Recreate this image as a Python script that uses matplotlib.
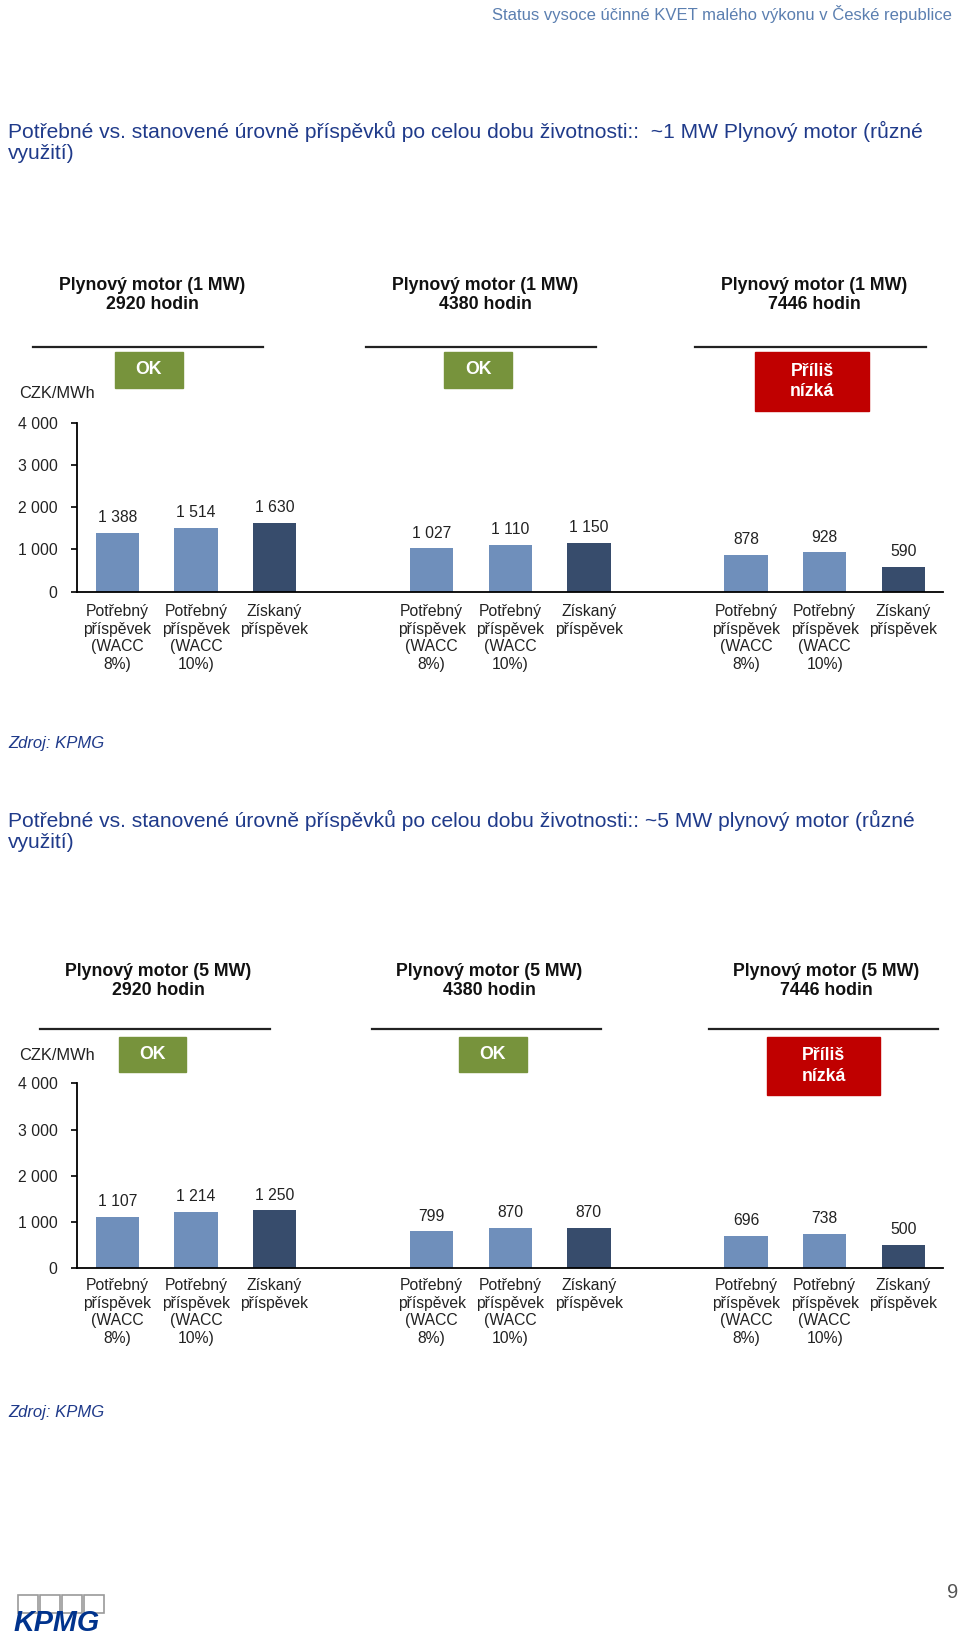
import matplotlib
matplotlib.use("Agg")
import matplotlib.pyplot as plt
from matplotlib.patches import Rectangle
from matplotlib.lines import Line2D

W, H = 960, 1637

# data
categories = ["Potřebný\npříspěvek\n(WACC\n8%)", "Potřebný\npříspěvek\n(WACC\n10%)", "Získaný\npříspěvek"]
hours = [2920, 4380, 7446]
status = ["OK", "OK", "Příliš\nnízká"]
values_1mw = [1388, 1514, 1630, 1027, 1110, 1150, 878, 928, 590]
values_5mw = [1107, 1214, 1250, 799, 870, 870, 696, 738, 500]
y_ticks = [0, 1000, 2000, 3000, 4000]

LIGHT = "#6f8fbb"
DARK = "#374c6c"
GREEN = "#77933c"
RED = "#c00000"
NAVY = "#1f3a8a"
STEEL = "#5b7fb0"

plt.rcParams['font.family'] = ['Liberation Sans', 'DejaVu Sans']

fig = plt.figure(figsize=(W / 100, H / 100), dpi=100)


def fx(x):
    return x / W


def fy(y):
    return 1 - y / H


def fmt(v):
    return f"{v:,}".replace(",", " ")


def draw_panel(y_top, y_zero, values, mw, head_x, head_y, lines, boxes, czk_y, label_pad):
    ax = fig.add_axes([fx(77), fy(y_zero), fx(943) - fx(77), fy(y_top) - fy(y_zero)])
    pos = [0, 1, 2, 4, 5, 6, 8, 9, 10]
    colors = [LIGHT, LIGHT, DARK] * 3
    ax.bar(pos, values, width=0.55, color=colors)
    for p, v in zip(pos, values):
        ax.annotate(fmt(v), (p, v), xytext=(0, 11), textcoords="offset points",
                    ha="center", va="center", fontsize=11.3, color="#222222")
    ax.set_xlim(-0.513, 10.505)
    ax.set_ylim(0, 4000)
    ax.set_yticks(y_ticks, [fmt(t) for t in y_ticks])
    ax.set_xticks(pos, categories * 3)
    ax.tick_params(axis="x", length=0, pad=label_pad, labelsize=11.3, labelcolor="#222222")
    ax.tick_params(axis="y", length=4, width=1.2, pad=10, labelsize=11.3, labelcolor="#222222")
    for lbl in ax.get_xticklabels():
        lbl.set_linespacing(1.22)
    for s in ["top", "right"]:
        ax.spines[s].set_visible(False)
    for s in ["left", "bottom"]:
        ax.spines[s].set_linewidth(1.3)
    ax.patch.set_visible(False)

    for i in range(3):
        fig.text(fx(head_x[i]), fy(head_y), f"Plynový motor ({mw} MW)\n{hours[i]} hodin",
                 ha="center", va="center", fontsize=12.8, fontweight="bold",
                 linespacing=1.1, color="#111111")
        x0, x1, ly = lines[i]
        fig.add_artist(Line2D([fx(x0), fx(x1)], [fy(ly), fy(ly)], color="#222222", lw=1.6))
        bx0, by0, bx1, by1 = boxes[i]
        c = RED if "nízká" in status[i] else GREEN
        fig.add_artist(Rectangle((fx(bx0), fy(by1)), fx(bx1) - fx(bx0), fy(by0) - fy(by1),
                                 transform=fig.transFigure, color=c))
        fig.text(fx((bx0 + bx1) / 2), fy((by0 + by1) / 2), status[i], ha="center", va="center",
                 fontsize=12.8, fontweight="bold", color="white", linespacing=1.25)
    fig.text(fx(19), fy(czk_y), "CZK/MWh", ha="left", va="center", fontsize=11.8, color="#222222")
    return ax


# page header
fig.text(fx(952), fy(14), "Status vysoce účinné KVET malého výkonu v České republice",
         ha="right", va="center", fontsize=12, color=STEEL)

# panel 1
fig.text(fx(8), fy(142), "Potřebné vs. stanovené úrovně příspěvků po celou dobu životnosti::  ~1 MW Plynový motor (různé\nvyužití)",
         ha="left", va="center", fontsize=15.1, color=NAVY, linespacing=1.18)
draw_panel(422.7, 591.7, values_1mw, 1,
           [152, 485, 814], 295,
           [(33, 263, 347), (366, 596, 347), (695, 926, 347)],
           [(115, 352, 183, 388), (444, 352, 512, 388), (755, 352, 869, 411)],
           393, 9)
fig.text(fx(8), fy(743), "Zdroj: KPMG", ha="left", va="center", fontsize=12, style="italic", color=NAVY)

# panel 2
fig.text(fx(8), fy(831), "Potřebné vs. stanovené úrovně příspěvků po celou dobu životnosti:: ~5 MW plynový motor (různé\nvyužití)",
         ha="left", va="center", fontsize=15.1, color=NAVY, linespacing=1.18)
draw_panel(1083.3, 1268.3, values_5mw, 5,
           [158, 489, 826], 981,
           [(40, 270, 1029), (372, 601, 1029), (709, 938, 1029)],
           [(119, 1037, 186, 1072), (459, 1037, 527, 1072), (767, 1037, 880, 1095)],
           1055, 7)
fig.text(fx(8), fy(1413), "Zdroj: KPMG", ha="left", va="center", fontsize=12, style="italic", color=NAVY)

# footer
fig.text(fx(953), fy(1592), "9", ha="center", va="center", fontsize=14.5, color="#555555")
for i in range(4):
    x0 = 18 + i * 22
    fig.add_artist(Rectangle((fx(x0), fy(1613)), fx(20), fy(1595) - fy(1613),
                             transform=fig.transFigure, fill=False, edgecolor="#9a9a9a", lw=1.2))
fig.text(fx(14), fy(1623), "KPMG", ha="left", va="center", fontsize=20.7, fontweight="bold",
         style="italic", color="#00338d")

fig.savefig("out.png", dpi=100)
